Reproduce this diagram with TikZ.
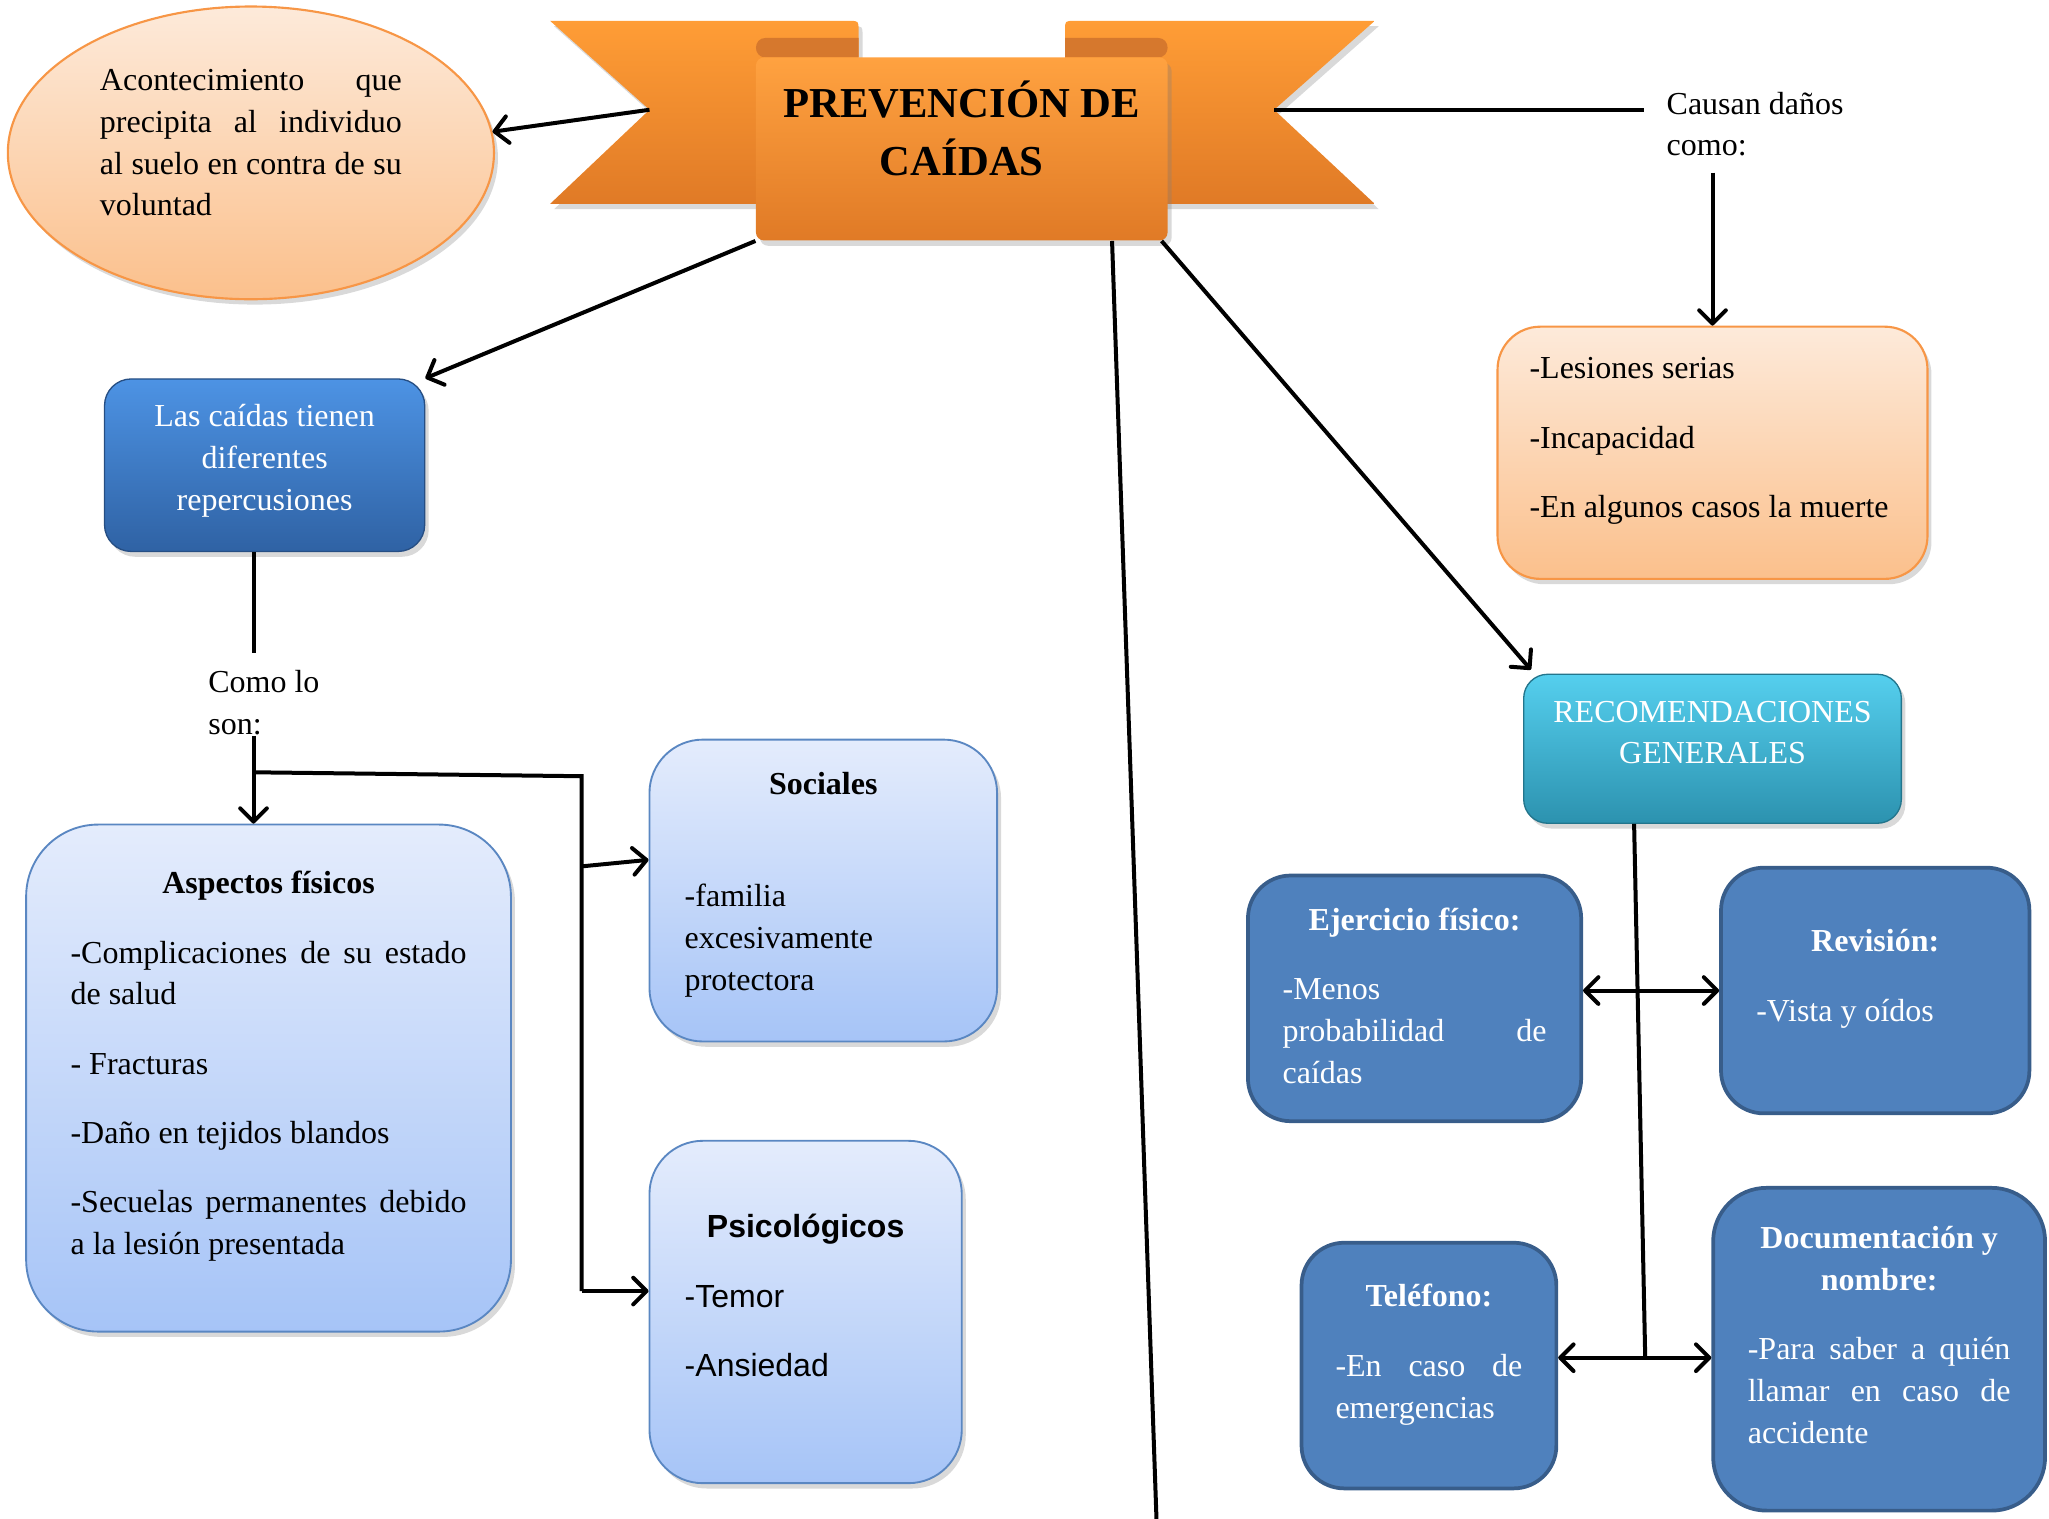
\documentclass[tikz,border=0pt]{standalone}
\usepackage{fontspec}
\setmainfont{Liberation Serif}
\setsansfont{Liberation Sans}
\usetikzlibrary{arrows.meta,shapes.geometric,shadows,calc}

\definecolor{peachtop}{HTML}{FDEADA}
\definecolor{peachbot}{HTML}{FBC08C}
\definecolor{peachline}{HTML}{F79646}
\definecolor{orangetop}{HTML}{FF9D36}
\definecolor{orangebot}{HTML}{E07A26}
\definecolor{orangedark}{HTML}{D6782D}
\definecolor{bluetop}{HTML}{4D93E4}
\definecolor{bluebot}{HTML}{2F62A4}
\definecolor{cyantop}{HTML}{55CFEE}
\definecolor{cyanbot}{HTML}{2C92AF}
\definecolor{paletop}{HTML}{E4ECFC}
\definecolor{palebot}{HTML}{A6C4F7}
\definecolor{paleline}{HTML}{5A87C2}
\definecolor{midblue}{HTML}{4F81BD}
\definecolor{midline}{HTML}{385D8A}

\newcommand\pxu{0.49pt}
\newcommand\jl[1]{{\spaceskip=0pt\makebox[\linewidth][s]{#1}}}
\newcommand\lift[1]{\rule[-#1]{0pt}{#1}}

\tikzset{
    txt/.style={font=\fontsize{12}{15.7}\selectfont, inner sep=0pt},
    shade1/.style={drop shadow={opacity=0.3, shadow xshift=1.5pt, shadow yshift=-2pt}},
    peach/.style={txt, shade1, draw=peachline, line width=0.8pt, top color=peachtop, bottom color=peachbot},
    pale/.style={txt, shade1, draw=paleline, line width=0.7pt, top color=paletop, bottom color=palebot, align=justify},
    dark/.style={txt, text=white, fill=midblue, draw=midline, line width=1.4pt, align=justify, rounded corners=16pt},
    line/.style={line width=1.5pt},
    arr/.style={line, -{Straight Barb[length=5pt, width=10pt, round]}},
    darr/.style={line, {Straight Barb[length=5pt, width=10pt, round]}-{Straight Barb[length=5pt, width=10pt, round]}}
}

\begin{document}
\begin{tikzpicture}[x=0.49pt, y=-0.49pt]
    \useasboundingbox (0,0) rectangle (1568,1162.4);

    % cinta del titulo
    \shade[shade1, top color=orangetop, bottom color=orangebot] (421,16) -- (650,16) .. controls (657,16) .. (657,23) -- (657,156) -- (421,156) -- (497,84) -- cycle;
    \shade[shade1, top color=orangetop, bottom color=orangebot] (1052,16) -- (822,16) .. controls (815,16) .. (815,23) -- (815,156) -- (1052,156) -- (975,84) -- cycle;
    \fill[orangedark] (586,29) -- (657,29) -- (657,44) -- (586,44) .. controls (576,44) and (576,29) .. (586,29);
    \fill[orangedark] (815,29) -- (886,29) .. controls (896,29) and (896,44) .. (886,44) -- (815,44) -- cycle;
    \coordinate (notchL) at (497,84);
    \coordinate (notchR) at (975,84);

    \node[shade1, top color=orangetop!95!white, bottom color=orangebot, rounded corners=3pt,
        minimum width=315*\pxu, minimum height=140*\pxu, align=center, inner sep=0pt,
        font=\bfseries\fontsize{16}{21.6}\selectfont] (title) at (736,114) {PREVENCIÓN DE\\CAÍDAS\lift{15.5pt}};

    \node[peach, ellipse, minimum width=372*\pxu, minimum height=224*\pxu, text width=231*\pxu, align=justify] (def) at (192,117)
        {\jl{Acontecimiento que}\\\jl{precipita al individuo}\\\jl{al suelo en contra de su}\\voluntad\lift{7.8pt}};

    \node[txt, anchor=west, align=left] (causan) at (1275,95) {Causan daños\\como:};
    \coordinate (causanEnd) at (1258,84);

    \node[peach, rounded corners=16pt, minimum width=329*\pxu, minimum height=193*\pxu, text width=280*\pxu, align=justify] (lesiones) at (1310.5,346.5)
        {-Lesiones serias\\[10.3pt]-Incapacidad\\[10.3pt]\mbox{-En algunos casos la muerte}\lift{11.3pt}};

    \node[txt, shade1, text=white, top color=cyantop, bottom color=cyanbot, draw=cyanbot!80!black, line width=0.5pt, rounded corners=9pt,
        minimum width=289*\pxu, minimum height=114*\pxu, align=center] (recom) at (1310.5,573) {RECOMENDACIONES\\GENERALES\lift{12.3pt}};

    \node[txt, shade1, text=white, top color=bluetop, bottom color=bluebot, draw=bluebot!80!black, line width=0.5pt, rounded corners=10pt,
        minimum width=245*\pxu, minimum height=132*\pxu, align=center] (caidas) at (202.5,356) {Las caídas tienen\\diferentes\\repercusiones\lift{5.9pt}};

    \node[txt, anchor=west, align=left] (como) at (159,538) {Como lo\\son:};

    \node[pale, rounded corners=27pt, minimum width=371*\pxu, minimum height=388*\pxu, text width=303*\pxu] (aspect) at (205.5,825)
        {\makebox[\linewidth]{\bfseries Aspectos físicos}\\[10.3pt]
         \jl{-Complicaciones de su estado}\\de salud\\[10.3pt]
         - Fracturas\\[10.3pt]
         -Daño en tejidos blandos\\[10.3pt]
         \jl{-Secuelas permanentes debido}\\a la lesión presentada\lift{11.3pt}};

    \node[pale, rounded corners=20pt, minimum width=266*\pxu, minimum height=231*\pxu, text width=212*\pxu] (sociales) at (630,681.5)
        {\makebox[\linewidth]{\bfseries Sociales}\\[26.5pt]-familia\\excesivamente\\protectora\lift{6.9pt}};

    \node[pale, rounded corners=20pt, minimum width=239*\pxu, minimum height=262*\pxu, text width=185*\pxu,
        font=\sffamily\fontsize{12}{15.7}\selectfont] (psico) at (616.5,1004)
        {\makebox[\linewidth]{\bfseries Psicológicos}\\[10.3pt]-Temor\\[10.3pt]-Ansiedad\lift{12.3pt}};

    \node[dark, minimum width=255*\pxu, minimum height=188*\pxu, text width=202*\pxu] (ejer) at (1082.5,764)
        {\makebox[\linewidth]{\bfseries Ejercicio físico:}\\[10.3pt]-Menos\\\jl{probabilidad de}\\caídas\lift{2pt}};
    \node[dark, minimum width=236*\pxu, minimum height=188*\pxu, text width=182*\pxu] (rev) at (1435,758)
        {\makebox[\linewidth]{\bfseries Revisión:}\\[10.3pt]-Vista y oídos\lift{11.3pt}};
    \node[dark, minimum width=195*\pxu, minimum height=188*\pxu, text width=143*\pxu] (tel) at (1093.5,1045)
        {\makebox[\linewidth]{\bfseries Teléfono:}\\[10.3pt]\jl{-En caso de}\\emergencias\lift{10.8pt}};
    \node[dark, rounded corners=20pt, minimum width=254*\pxu, minimum height=247*\pxu, text width=201*\pxu] (doc) at (1438,1032.5)
        {\makebox[\linewidth]{\bfseries Documentación y}\\\makebox[\linewidth]{\bfseries nombre:}\\[10.3pt]\jl{-Para saber a quién}\\\jl{llamar en caso de}\\accidente\lift{10.8pt}};

    % puntos de union
    \coordinate (fin) at (885,1162.4);
    \coordinate (c1) at (194,500);
    \coordinate (j1) at (194,591);
    \coordinate (j2) at (445,594);
    \coordinate (j3) at (445,988);
    \coordinate (j4) at (445,663);
    \coordinate (r2) at (1259,1039);

    \draw[arr] (notchL) -- (def.5);
    \draw[line] (notchR) -- (causanEnd);
    \draw[arr] ($(lesiones.north |- causan.south)+(0,12)$) -- (lesiones.north);
    \draw[arr] ($(title.south east)+(-5,0)$) -- ($(recom.north west)+(6,-3)$);
    \draw[line] ($(title.south)+(115,0)$) -- (fin);
    \draw[arr] (title.south west) -- (caidas.north east);

    \draw[line] (caidas.south -| c1) -- (c1);
    \draw[arr] (como.south -| j1) -- (aspect.north -| j1);
    \draw[line] (j1) -- (j2) -- (j3);
    \draw[arr] (j3) -- (psico.west |- j3);
    \draw[arr] (j4) -- (sociales.west |- 0,658);

    \draw[line] ($(recom.south)+(-60,0)$) -- (r2);
    \draw[darr] (ejer.east |- rev.west) -- (rev.west);
    \draw[darr] (tel.east |- r2) -- (doc.west |- r2);
\end{tikzpicture}
\end{document}
